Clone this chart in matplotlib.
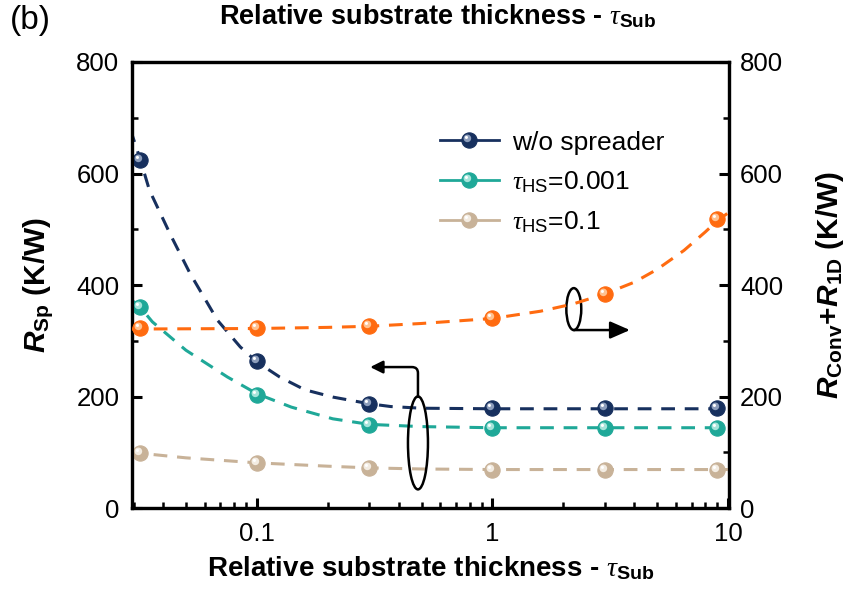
import matplotlib
matplotlib.use("Agg")
import matplotlib.pyplot as plt
from matplotlib.markers import MarkerStyle
from matplotlib.transforms import Affine2D
from matplotlib.patches import Ellipse
from matplotlib.legend_handler import HandlerTuple
from matplotlib.lines import Line2D
from matplotlib.ticker import MultipleLocator, LogLocator, NullFormatter

plt.rcParams['font.family'] = ['Liberation Sans', 'DejaVu Sans']
plt.rcParams['mathtext.fontset'] = 'custom'
plt.rcParams['mathtext.rm'] = 'Liberation Sans:bold'
plt.rcParams['mathtext.bf'] = 'Liberation Sans:bold'
plt.rcParams['mathtext.it'] = 'Liberation Serif:italic'
plt.rcParams['mathtext.bfit'] = 'Liberation Sans:italic:bold'
plt.rcParams['mathtext.sf'] = 'Liberation Sans'

# measured points
tau_sub = [0.032, 0.1, 0.3, 1, 3, 9]
r_wo = [624, 264, 187, 180, 180, 180]
r_hs001 = [361, 203, 149, 144, 144, 144]
r_hs01 = [98, 81, 72, 69, 69, 69]
r_conv = [322, 322, 326, 340, 384, 518]

# dashed fit curves
fit_x_wo = [0.029, 0.032, 0.035, 0.043, 0.052, 0.068, 0.085, 0.1, 0.125, 0.16, 0.21, 0.3, 0.37, 0.5, 1, 10.2]
fit_wo = [680, 625, 570, 490, 421, 337, 289, 262, 235, 212, 199, 187, 182, 179, 178, 178]
fit_x_hs001 = [0.029, 0.032, 0.036, 0.05, 0.075, 0.1, 0.14, 0.21, 0.3, 0.5, 1, 10.2]
fit_hs001 = [375, 360, 334, 283, 235, 205, 181, 160, 150, 146, 144, 144]
fit_x_hs01 = [0.029, 0.05, 0.1, 0.2, 0.3, 0.5, 1, 10.2]
fit_hs01 = [100, 90, 81, 75, 72, 70, 69, 69]
fit_x_conv = [0.029, 0.1, 0.2, 0.3, 0.5, 1, 1.6, 2.2, 3, 4, 5, 6.5, 8, 9, 10.2]
fit_conv = [321, 322, 324, 326, 331, 340, 353, 366, 384, 405, 428, 462, 495, 515, 532]

navy, navy_hl = '#17305e', '#8c9dbb'
teal, teal_hl = '#1fa898', '#a6e4da'
tan, tan_hl = '#c8b298', '#f3ece2'
orange, orange_hl = '#ff6b10', '#ffc291'

MS = 11
hl_mark = MarkerStyle('o', transform=Affine2D().scale(0.5).translate(-0.14, 0.14))
spot_mark = MarkerStyle('o', transform=Affine2D().scale(0.2).translate(-0.2, 0.2))


def sphere(ax, x, y, color, hl):
    ax.plot(x, y, marker='o', ls='none', ms=MS, color=color, mec=color, mew=0.8, zorder=5)
    ax.plot(x, y, marker=hl_mark, ls='none', ms=MS, color=hl, mew=0, zorder=5.1)
    ax.plot(x, y, marker=spot_mark, ls='none', ms=MS, color='white', mew=0, zorder=5.2)


fig = plt.figure(figsize=(8.58, 5.99), dpi=100)
ax = fig.add_axes([0.1538, 0.1519, 0.6959, 0.7446])
ax2 = ax.twinx()

dash = (0, (4.5, 3.2))
ax.plot(fit_x_wo, fit_wo, ls=dash, lw=2.2, color=navy, zorder=3)
ax.plot(fit_x_hs001, fit_hs001, ls=dash, lw=2.2, color=teal, zorder=3)
ax.plot(fit_x_hs01, fit_hs01, ls=dash, lw=2.2, color=tan, zorder=3)
ax2.plot(fit_x_conv, fit_conv, ls=dash, lw=2.2, color=orange, zorder=3)

sphere(ax, tau_sub, r_wo, navy, navy_hl)
sphere(ax, tau_sub, r_hs001, teal, teal_hl)
sphere(ax, tau_sub, r_hs01, tan, tan_hl)
sphere(ax2, tau_sub, r_conv, orange, orange_hl)

ax.set_xscale('log')
ax.set_xlim(0.0295, 10.1)
ax.set_ylim(0, 800)
ax2.set_ylim(0, 800)
ax.set_xticks([0.1, 1, 10])
ax.set_xticklabels(['0.1', '1', '10'])
ax.xaxis.set_minor_locator(LogLocator(base=10, subs=range(2, 10)))
ax.xaxis.set_minor_formatter(NullFormatter())
for a in (ax, ax2):
    a.yaxis.set_major_locator(MultipleLocator(200))
    a.yaxis.set_minor_locator(MultipleLocator(100))
    for s in a.spines.values():
        s.set_linewidth(2.3)
    a.tick_params(which='major', direction='in', length=7, width=2.2, labelsize=18.5, pad=9)
    a.tick_params(which='minor', direction='in', length=4, width=1.8)
ax.tick_params(axis='x', pad=10)
ax2.tick_params(axis='y', pad=8)

ax.set_xlabel(r'Relative substrate thickness - $\tau_{\mathrm{Sub}}$', fontsize=20, fontweight='bold', labelpad=6)
ax.set_ylabel(r'$\mathbfit{R}_{\mathrm{Sp}}$ (K/W)', fontsize=21.5, fontweight='bold', labelpad=15)
ax2.set_ylabel(r'$\mathbfit{R}_{\mathrm{Conv}}$+$\mathbfit{R}_{\mathrm{1D}}$ (K/W)', fontsize=21.5,
               fontweight='bold', labelpad=22)
fig.text(0.51, 0.973, r'Relative substrate thickness - $\tau_{\mathrm{Sub}}$', fontsize=19.5,
         fontweight='bold', ha='center', va='center')
fig.text(0.012, 0.965, '(b)', fontsize=24, va='center')

# annotations: ellipses with arrows pointing to the axis they belong to
ax.add_patch(Ellipse((0.479, 0.146), 0.0335, 0.2085, transform=ax.transAxes, fill=False,
                     lw=1.8, ec='k', zorder=6))
ax.annotate('', xy=(0.399, 0.316), xytext=(0.479, 0.249), xycoords='axes fraction',
            arrowprops=dict(arrowstyle='-|>,head_length=0.5,head_width=0.25',
                            connectionstyle='angle,angleA=90,angleB=0,rad=6',
                            lw=1.8, color='k', shrinkA=0, shrinkB=0, mutation_scale=15), zorder=6)
ax.add_patch(Ellipse((0.740, 0.446), 0.025, 0.094, transform=ax.transAxes, fill=False,
                     lw=1.8, ec='k', zorder=6))
ax.annotate('', xy=(0.834, 0.399), xytext=(0.740, 0.399), xycoords='axes fraction',
            arrowprops=dict(arrowstyle='-|>,head_length=0.8,head_width=0.35',
                            lw=1.8, color='k', shrinkA=0, shrinkB=0, mutation_scale=15), zorder=6)

# legend with line-marker-line handles
handles = []
for c, h in [(navy, navy_hl), (teal, teal_hl), (tan, tan_hl)]:
    base = Line2D([], [], marker='o', ls='-', lw=2, ms=MS, color=c, mec=c, mew=0.8)
    h1 = Line2D([], [], marker=hl_mark, ls='none', ms=MS, color=h, mew=0)
    h2 = Line2D([], [], marker=spot_mark, ls='none', ms=MS, color='white', mew=0)
    handles.append((base, h1, h2))
labels = ['w/o spreader', r'$\tau_{\mathsf{HS}}$=0.001', r'$\tau_{\mathsf{HS}}$=0.1']
ax2.legend(handles, labels, handler_map={tuple: HandlerTuple(ndivide=1)}, loc='upper left',
           bbox_to_anchor=(0.499, 0.87), frameon=False, fontsize=19, handlelength=2.2,
           handletextpad=0.5, labelspacing=0.55, numpoints=1, borderaxespad=0)

fig.savefig('out.png', dpi=100)
